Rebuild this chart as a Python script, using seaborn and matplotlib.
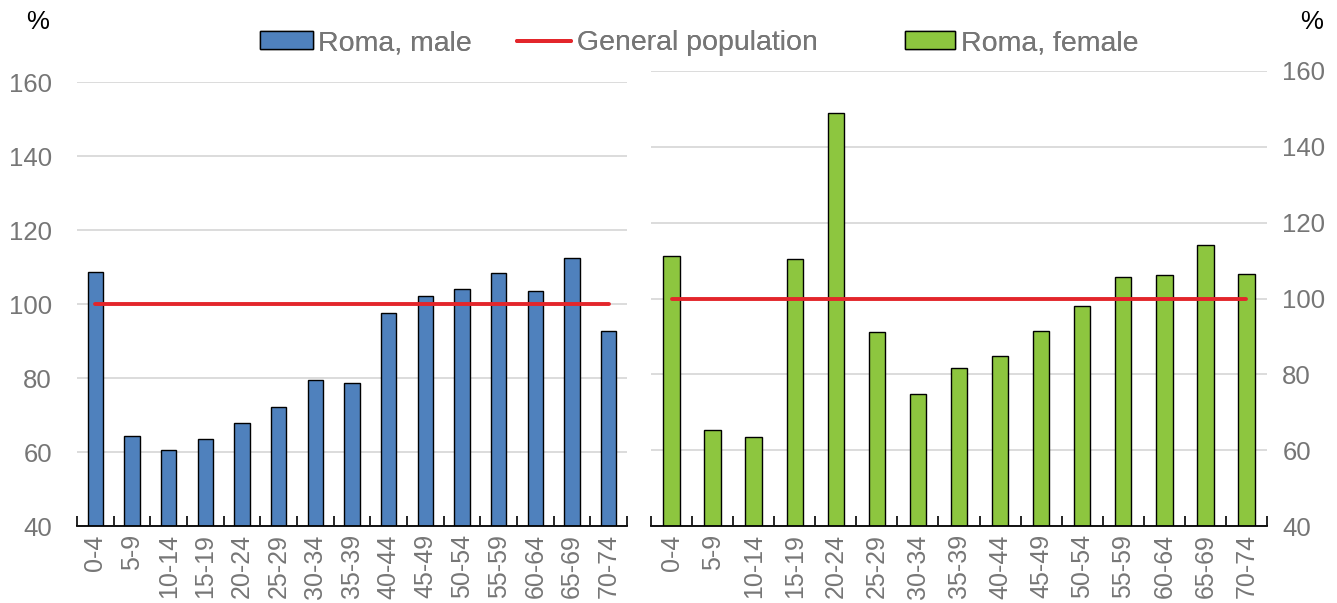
import numpy as np
import matplotlib
matplotlib.use("Agg")
import matplotlib.pyplot as plt
import seaborn as sns
from matplotlib.patches import Patch
from matplotlib.lines import Line2D

sns.set_theme(style="white")
plt.rcParams['font.family'] = ['Liberation Sans', 'DejaVu Sans']

ages = ["0-4", "5-9", "10-14", "15-19", "20-24", "25-29", "30-34", "35-39",
        "40-44", "45-49", "50-54", "55-59", "60-64", "65-69", "70-74"]
roma_male = [108.6, 64.3, 60.5, 63.5, 67.8, 72.2, 79.5, 78.6, 97.6, 102.2,
             104.1, 108.4, 103.5, 112.4, 92.7]
roma_female = [111.2, 65.3, 63.5, 110.4, 149.0, 91.2, 74.8, 81.7, 84.9, 91.5,
               98.0, 105.7, 106.2, 114.1, 106.5]
general_pop = [100] * len(ages)
yticks = [40, 60, 80, 100, 120, 140, 160]

BLUE = "#4f81bd"
GREEN = "#8dc63f"
RED = "#e3262b"
GRAY = "#767676"
GRID = "#d9d9d9"
FS_Y = 18.5
FS_X = 18
FS_LEG = 20.5

W, H = 1337, 603
fig = plt.figure(figsize=(W / 100, H / 100), dpi=100)

def box(x0, y_top, x1, y_bot):
    return [x0 / W, 1 - y_bot / H, (x1 - x0) / W, (y_bot - y_top) / H]

axL = fig.add_axes(box(77, 82, 627, 526))
axR = fig.add_axes(box(651, 71, 1267, 526))

def style(ax, vals, color, width, right=False):
    sns.barplot(x=ages, y=vals, color=color, width=width, edgecolor="black",
                linewidth=1.0, saturation=1, ax=ax, zorder=3)
    sns.lineplot(x=np.arange(len(ages)), y=general_pop, color=RED, linewidth=2.8,
                 ax=ax, zorder=4)
    ax.set_ylim(40, 160)
    ax.set_xlim(-0.5, len(ages) - 0.5)
    ax.set_yticks(yticks)
    ax.yaxis.grid(True, color=GRID, linewidth=1.3, zorder=0)
    ax.set_axisbelow(True)
    for s in ["top", "left", "right"]:
        ax.spines[s].set_visible(False)
    ax.spines["bottom"].set_color("black")
    ax.spines["bottom"].set_linewidth(1.3)
    ax.spines["bottom"].set_zorder(5)
    ax.set_xticks(np.arange(len(ages)))
    ax.set_xticklabels(ages, rotation=90, color=GRAY, fontsize=FS_X)
    ax.set_xticks(np.arange(-0.5, len(ages)), minor=True)
    ax.tick_params(axis="x", which="major", length=0, pad=6)
    ax.tick_params(axis="x", which="minor", direction="in", length=7, width=1.2,
                   color="black", bottom=True)
    ax.tick_params(axis="y", length=0, labelsize=FS_Y, labelcolor=GRAY, pad=18)
    if right:
        ax.yaxis.tick_right()
        ax.tick_params(axis="y", length=0, pad=11)
    ax.set_xlabel("")
    ax.set_ylabel("")

style(axL, roma_male, BLUE, 0.42)
style(axR, roma_female, GREEN, 0.40, right=True)

fig.text(38 / W, 1 - 22 / H, "%", ha="center", va="center", fontsize=FS_Y, color="black")
fig.text(1312 / W, 1 - 22 / H, "%", ha="center", va="center", fontsize=FS_Y, color="black")

def leg(handle, label, x, hl):
    lg = fig.legend([handle], [label], loc="center left",
                    bbox_to_anchor=(x / W, 1 - 43 / H), frameon=False,
                    fontsize=FS_LEG, labelcolor=GRAY, handlelength=hl,
                    handleheight=0.55, handletextpad=0.2, borderpad=0,
                    borderaxespad=0)
    fig.add_artist(lg)

leg(Patch(facecolor=BLUE, edgecolor="black", linewidth=1.0), "Roma, male", 260, 1.85)
leg(Line2D([], [], color=RED, linewidth=2.8), "General population", 517, 1.9)
leg(Patch(facecolor=GREEN, edgecolor="black", linewidth=1.0), "Roma, female", 905, 1.75)

fig.savefig("out.png", dpi=100)
